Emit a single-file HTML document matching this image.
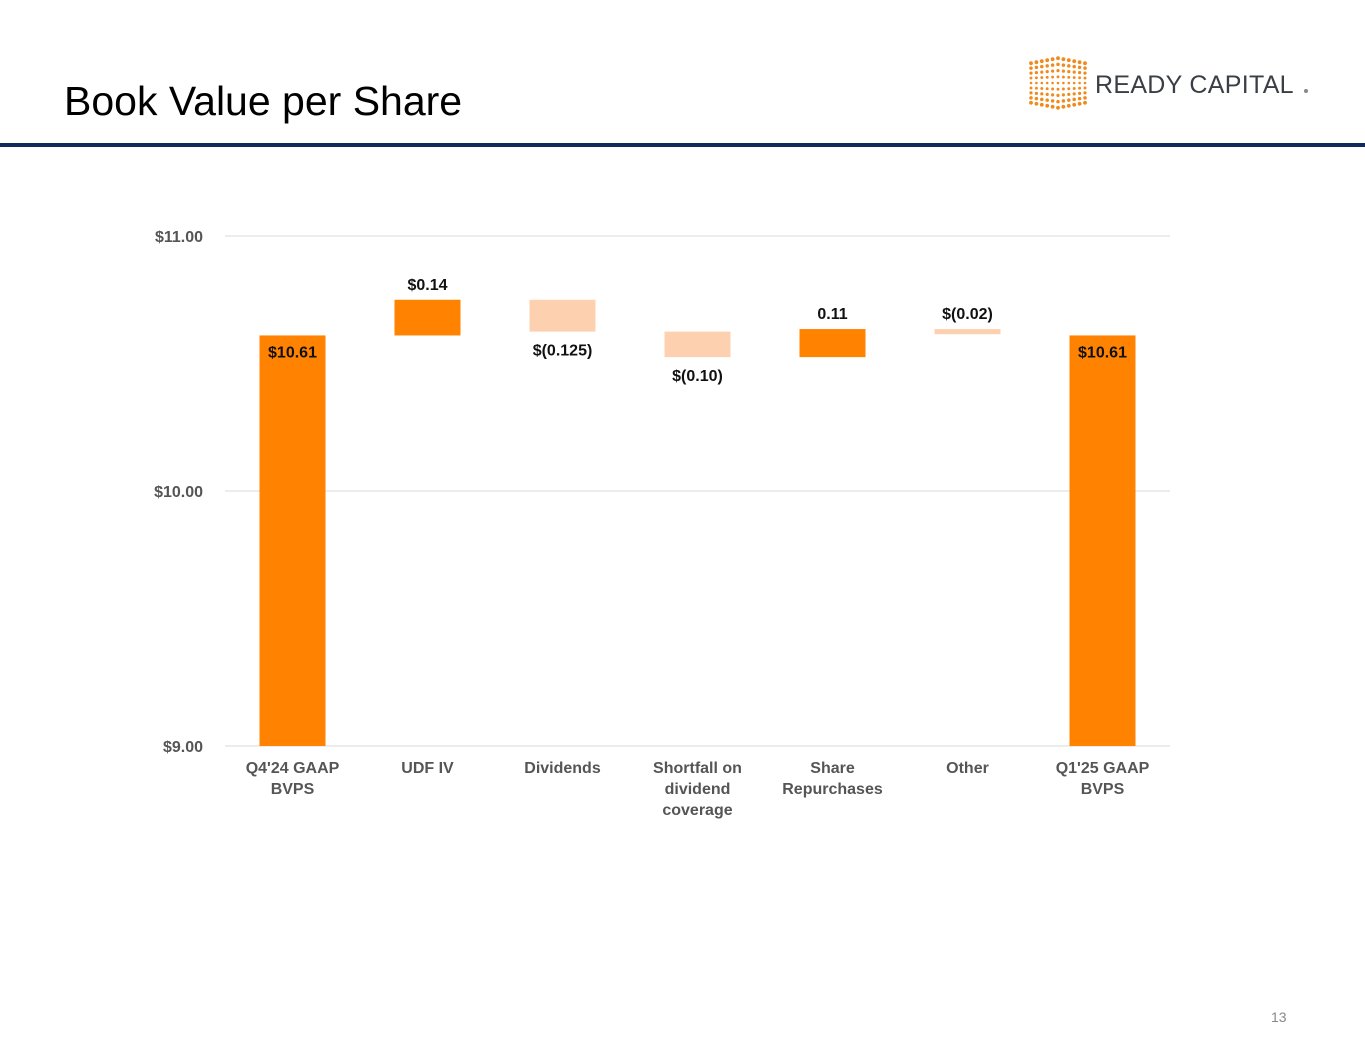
<!DOCTYPE html>
<html><head><meta charset="utf-8"><style>
body{margin:0;width:1365px;height:1055px;background:#fff;font-family:"Liberation Sans",Arial,sans-serif;position:relative;overflow:hidden}
.title{position:absolute;left:64px;top:78px;font-size:41px;color:#000}
.rule{position:absolute;left:0;top:143px;width:1365px;height:4px;background:#0e2a5e}
.pg{position:absolute;left:1271px;top:1009px;font-size:14px;color:#888}
</style></head><body>
<div class="title">Book Value per Share</div>
<div class="rule"></div>
<svg style="position:absolute;left:1025px;top:52px" width="300" height="62">
<g id="dots" fill="#f08a1c"></g>
<text x="70" y="41" font-size="25" fill="#3a3f45" font-family="Liberation Sans, sans-serif" letter-spacing="0.3">READY CAPITAL</text>
<circle cx="281" cy="39" r="2" fill="#888"/>
</svg>
<svg id="chart" width="1365" height="1055" style="position:absolute;left:0;top:0"></svg>
<div class="pg">13</div>
<script>
const categories=["Q4'24 GAAP|BVPS","UDF IV","Dividends","Shortfall on|dividend|coverage","Share|Repurchases","Other","Q1'25 GAAP|BVPS"];
const values=[10.61,0.14,-0.125,-0.10,0.11,-0.02,10.61];
const kinds=["total","delta","delta","delta","delta","delta","total"];
const valueLabels=["$10.61","$0.14","$(0.125)","$(0.10)","0.11","$(0.02)","$10.61"];
const yTicks=[9,10,11];
const yTickLabels=["$9.00","$10.00","$11.00"];
const NS="http://www.w3.org/2000/svg";
const svg=document.getElementById('chart');
const x0=225,x1=1170,yMin=9,yMax=11,py0=746,py1=236;
const y=v=>py0-(v-yMin)/(yMax-yMin)*(py0-py1);
const step=(x1-x0)/categories.length;
const xc=i=>x0+step*(i+0.5);
function el(t,a){const e=document.createElementNS(NS,t);for(const k in a)e.setAttribute(k,a[k]);svg.appendChild(e);return e;}
yTicks.forEach((t,i)=>{
 const l=el('line',{x1:x0,x2:x1,y1:y(t),y2:y(t),stroke:'#d9d9d9','stroke-width':1});
 
 
 const tx=el('text',{x:203,y:y(t)+6,'text-anchor':'end','font-size':16,'font-weight':'bold',fill:'#555'});
 tx.textContent=yTickLabels[i];
 
 
});
let cum=0;const bw=66;
values.forEach((v,i)=>{
 let top,bot,col;
 if(kinds[i]==='total'){top=v;bot=yMin;cum=v;col='#ff8200';}
 else{const n=cum+v;top=Math.max(cum,n);bot=Math.min(cum,n);cum=n;col=v>=0?'#ff8200':'#fdd1b0';}
 const r=el('rect',{x:xc(i)-bw/2,y:y(top),width:bw,height:Math.max(y(bot)-y(top),2),fill:col});
 
 
 let ly;
 if(kinds[i]==='total')ly=y(top)+22;
 else if(v>=0||i===5)ly=y(top)-10;
 else ly=y(bot)+24;
 const t=el('text',{x:xc(i),y:ly,'text-anchor':'middle','font-size':16,'font-weight':'bold',fill:'#111'});
 t.textContent=valueLabels[i];
 
 
 categories[i].split('|').forEach((s,j)=>{
  const c=el('text',{x:xc(i),y:773+j*21,'text-anchor':'middle','font-size':16,'font-weight':'bold',fill:'#555'});
  c.textContent=s;
  
  
 });
});
const g=document.getElementById('dots');
for(let c=0;c<11;c++){for(let r=0;r<9;r++){
 const dx=c-5,cy=31+(r-4)*(6.2-Math.abs(dx)*0.25);
 const cx=33+dx*5.4;
 const d=document.createElementNS(NS,'circle');
 d.setAttribute('cx',cx);d.setAttribute('cy',cy);d.setAttribute('r',1.3+Math.abs(r-4)*0.15);
 g.appendChild(d);
}}
</script>
</body></html>
